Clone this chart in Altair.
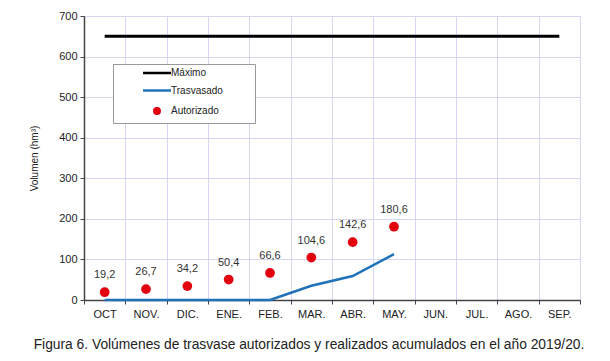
import altair as alt
import pandas as pd

meses = ["OCT", "NOV.", "DIC.", "ENE.", "FEB.", "MAR.", "ABR.", "MAY.", "JUN.", "JUL.", "AGO.", "SEP."]
maximo = [650, 650, 650, 650, 650, 650, 650, 650, 650, 650, 650, 650]
trasvasado = [0, 0, 0, 0, 0, 35, 59, 113]
autorizado = [19.2, 26.7, 34.2, 50.4, 66.6, 104.6, 142.6, 180.6]
series = ["Máximo", "Trasvasado", "Autorizado"]
colores = ["#000000", "#1f72b8", "#e3000f"]
linea = "M-5.1,0H5.1"
simbolos = [linea, linea, "circle"]
titulo = "Figura 6. Volúmenes de trasvase autorizados y realizados acumulados en el año 2019/20."

FONT = "Liberation Sans"
GRID = "#d6d6f2"

df_max = pd.DataFrame({"mes": meses, "valor": maximo, "serie": "Máximo"})
df_tra = pd.DataFrame({"mes": meses[:len(trasvasado)], "valor": trasvasado, "serie": "Trasvasado"})
df_aut = pd.DataFrame({"mes": meses[:len(autorizado)], "valor": autorizado, "serie": "Autorizado"})
df_aut["etiqueta"] = [f"{v:.1f}".replace(".", ",") for v in autorizado]

x = alt.X(
    "mes:N",
    sort=meses,
    scale=alt.Scale(type="band", domain=meses, paddingInner=0, paddingOuter=0),
    axis=alt.Axis(
        title=None, tickBand="extent", labelAngle=0, grid=True, gridColor=GRID,
        domainColor="#444", domainWidth=1.5, tickColor="#444", tickSize=4,
        labelFont=FONT, labelFontSize=11, labelColor="#222", labelPadding=4,
    ),
)
y = alt.Y(
    "valor:Q",
    scale=alt.Scale(domain=[0, 700], nice=False),
    axis=alt.Axis(
        title="Volumen (hm³)", values=list(range(0, 701, 100)), grid=True, gridColor=GRID,
        domainColor="#444", domainWidth=1.5, tickColor="#444", tickSize=4,
        labelFont=FONT, labelFontSize=11, labelColor="#222", labelPadding=3,
        titleFont=FONT, titleFontSize=10, titleFontWeight="normal", titleColor="#222",
        titlePadding=19,
    ),
)

l_max = alt.Chart(df_max).mark_line(color="#000000", strokeWidth=3).encode(x=x, y=y)
l_tra = alt.Chart(df_tra).mark_line(color="#1f72b8", strokeWidth=2.5).encode(x=x, y=y)
p_aut = alt.Chart(df_aut).mark_circle(color="#e3000f", size=95, opacity=1).encode(x=x, y=y)
t_aut = alt.Chart(df_aut).mark_text(dy=-17, fontSize=11, font=FONT, color="#333").encode(
    x=x, y=y, text="etiqueta:N"
)

relleno = "\u2800" * 4
leyenda = alt.Legend(title=None, labelExpr=f"datum.label + '{relleno}'")
ley = (
    alt.Chart(df_aut)
    .transform_filter("datum.valor < 0")
    .mark_point(filled=False, fill="#e3000f", fillOpacity=1, opacity=1, size=30)
    .encode(
        x=x,
        y=y,
        color=alt.Color("serie:N", scale=alt.Scale(domain=series, range=colores), legend=leyenda),
        shape=alt.Shape("serie:N", scale=alt.Scale(domain=series, range=simbolos), legend=leyenda),
    )
)

chart = (
    alt.layer(l_max, l_tra, p_aut, t_aut, ley)
    .properties(
        width=496,
        height=284,
        padding={"left": 76, "top": 8, "right": 22, "bottom": 53},
        autosize=alt.AutoSizeParams(type="none"),
        title=alt.TitleParams(
            titulo, orient="bottom", anchor="middle", font=FONT, fontSize=13.8,
            fontWeight="normal", color="#222", offset=19, dx=-23,
        ),
    )
    .configure_view(stroke="#b0b0d0", strokeWidth=1)
    .configure_legend(
        orient="none", legendX=29, legendY=48, padding=4, fillColor="white",
        strokeColor="#999999", labelFont=FONT, labelFontSize=10, labelColor="#222",
        symbolStrokeWidth=2.5, symbolSize=30, rowPadding=7.5, labelOffset=9, symbolOffset=35,
    )
)

chart.save("out.html", embed_options={"renderer": "svg", "actions": False})
